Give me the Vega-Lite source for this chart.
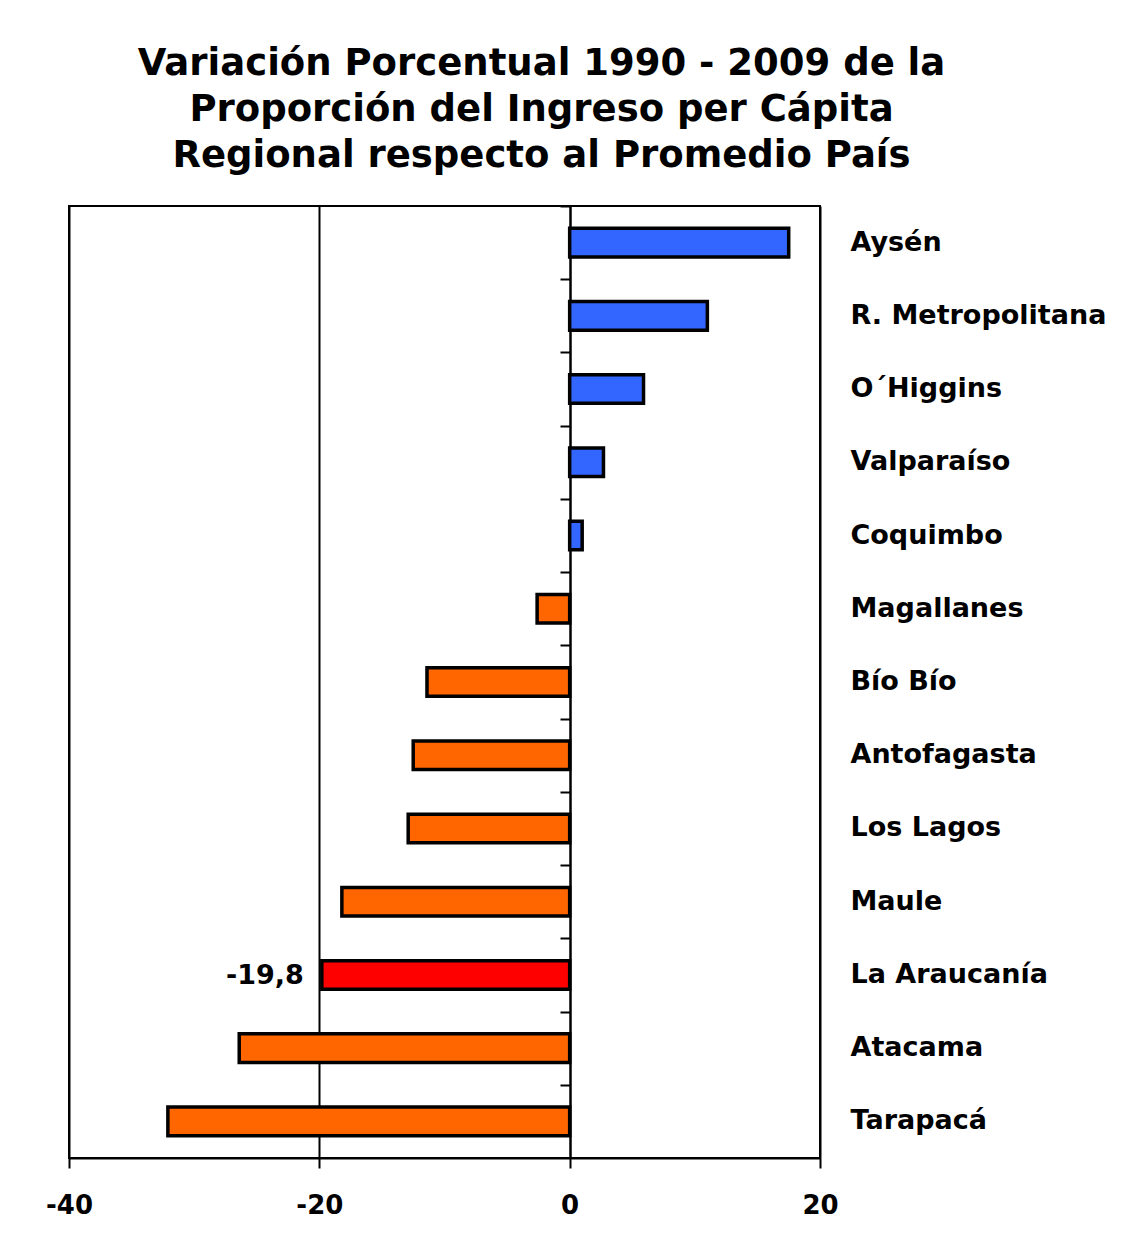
{
  "$schema": "https://vega.github.io/schema/vega-lite/v6.json",
  "width": 751,
  "height": 952,
  "autosize": "none",
  "padding": {"left": 69, "top": 206, "right": 301, "bottom": 75},
  "background": "white",
  "title": {
    "text": ["Variación Porcentual 1990 - 2009 de la", "Proporción del Ingreso per Cápita", "Regional respecto al Promedio País"],
    "font": "DejaVu Sans",
    "fontWeight": "bold",
    "fontSize": 37,
    "lineHeight": 46,
    "color": "black",
    "anchor": "middle",
    "frame": "group",
    "dx": 97,
    "offset": 30
  },
  "config": {
    "view": {"stroke": "black", "strokeWidth": 2},
    "font": "DejaVu Sans"
  },
  "data": {
    "values": [
      {"region": "Aysén", "valor": 17.5, "grupo": "pos", "etiqueta": ""},
      {"region": "R. Metropolitana", "valor": 11.0, "grupo": "pos", "etiqueta": ""},
      {"region": "O´Higgins", "valor": 5.9, "grupo": "pos", "etiqueta": ""},
      {"region": "Valparaíso", "valor": 2.7, "grupo": "pos", "etiqueta": ""},
      {"region": "Coquimbo", "valor": 1.0, "grupo": "pos", "etiqueta": ""},
      {"region": "Magallanes", "valor": -2.6, "grupo": "neg", "etiqueta": ""},
      {"region": "Bío Bío", "valor": -11.4, "grupo": "neg", "etiqueta": ""},
      {"region": "Antofagasta", "valor": -12.5, "grupo": "neg", "etiqueta": ""},
      {"region": "Los Lagos", "valor": -12.9, "grupo": "neg", "etiqueta": ""},
      {"region": "Maule", "valor": -18.2, "grupo": "neg", "etiqueta": ""},
      {"region": "La Araucanía", "valor": -19.8, "grupo": "hl", "etiqueta": "-19,8"},
      {"region": "Atacama", "valor": -26.4, "grupo": "neg", "etiqueta": ""},
      {"region": "Tarapacá", "valor": -32.1, "grupo": "neg", "etiqueta": ""}
    ]
  },
  "resolve": {"axis": {"y": "independent"}},
  "layer": [
    {
      "mark": {"type": "bar", "stroke": "black", "strokeWidth": 3.5},
      "encoding": {
        "x": {
          "field": "valor",
          "type": "quantitative",
          "scale": {"domain": [-40, 20], "nice": false},
          "axis": {
            "values": [-40, -20, 0, 20],
            "labelExpr": "'' + datum.value",
            "title": null,
            "grid": true,
            "gridColor": "black",
            "gridOpacity": 1,
            "gridWidth": 2,
            "domain": true,
            "domainColor": "black",
            "domainWidth": 2,
            "tickColor": "black",
            "tickWidth": 2,
            "tickSize": 10,
            "labelFont": "DejaVu Sans",
            "labelFontWeight": "bold",
            "labelFontSize": 26,
            "labelColor": "black",
            "labelPadding": 24,
            "labelFlush": false
          }
        },
        "y": {
          "field": "region",
          "type": "nominal",
          "sort": null,
          "scale": {"paddingInner": 0.61, "paddingOuter": 0.305},
          "axis": {
            "orient": "right",
            "title": null,
            "ticks": false,
            "domain": false,
            "labelFont": "DejaVu Sans",
            "labelFontWeight": "bold",
            "labelFontSize": 27,
            "labelColor": "black",
            "labelPadding": 30,
            "labelLimit": 400
          }
        },
        "color": {
          "field": "grupo",
          "type": "nominal",
          "scale": {"domain": ["pos", "neg", "hl"], "range": ["#3366FF", "#FF6600", "#FF0000"]},
          "legend": null
        }
      }
    },
    {
      "mark": {"type": "text", "align": "right", "baseline": "middle", "dx": -18, "dy": 1, "font": "DejaVu Sans", "fontWeight": "bold", "fontSize": 27, "color": "black"},
      "encoding": {
        "x": {"field": "valor", "type": "quantitative"},
        "y": {
          "field": "region",
          "type": "nominal",
          "sort": null,
          "axis": {
            "orient": "left",
            "offset": -501,
            "title": null,
            "labels": false,
            "domain": true,
            "domainColor": "black",
            "domainWidth": 2,
            "ticks": true,
            "tickOffset": -36.6,
            "tickColor": "black",
            "tickWidth": 2,
            "tickSize": 10
          }
        },
        "text": {"field": "etiqueta"}
      }
    }
  ]
}
